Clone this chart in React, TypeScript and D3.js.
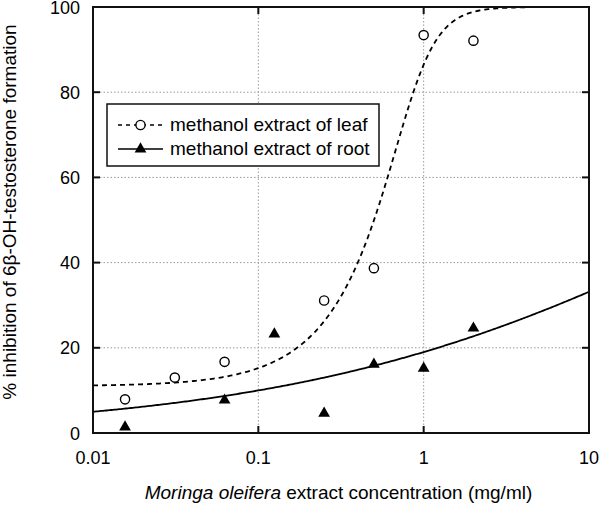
import React from "react";
import * as d3 from "d3";

const W = 600;
const H = 507;
const M = { left: 93, right: 589, top: 7, bottom: 433 };

// Data
const leafConc = [0.015625, 0.03125, 0.0625, 0.25, 0.5, 1, 2];
const leafInhib = [7.9, 13.0, 16.7, 31.1, 38.7, 93.4, 92.1];
const rootConc = [0.015625, 0.0625, 0.125, 0.25, 0.5, 1, 2];
const rootInhib = [1.4, 7.7, 23.2, 4.6, 16.1, 15.2, 24.6];

const xTicks = [0.01, 0.1, 1, 10];
const xTickLabels = ["0.01", "0.1", "1", "10"];
const yTicks = [0, 20, 40, 60, 80, 100];
const yTickLabels = ["0", "20", "40", "60", "80", "100"];

const seriesNames = ["methanol extract of leaf", "methanol extract of root"];

// fitted dose-response curve parameters
const leafFit = { bottom: 11, top: 100, ec50: 0.881, slope: 4, asym: 0.35 };
const rootFit = { bottom: 0, top: 100, ec50: 86.6, slope: 0.325, asym: 1 };

const FONT = "'Liberation Sans', Arial, Helvetica, sans-serif";

function fitValue(p: typeof leafFit, x: number) {
  return p.bottom + (p.top - p.bottom) / Math.pow(1 + Math.pow(p.ec50 / x, p.slope), p.asym);
}

export default function App() {
  const x = d3.scaleLog().domain([0.01, 10]).range([M.left, M.right]);
  const y = d3.scaleLinear().domain([0, 100]).range([M.bottom, M.top]);

  const samples = d3.range(0, 301).map((i) => Math.pow(10, -2 + (3 * i) / 300));
  const line = d3
    .line<number>()
    .x((d) => x(d))
    .curve(d3.curveLinear);
  const leafPath = line.y((d) => y(fitValue(leafFit, d)))(samples) || "";
  const rootPath = line.y((d) => y(fitValue(rootFit, d)))(samples) || "";

  const tri = d3.symbol().type(d3.symbolTriangle).size(60)() || "";

  return (
    <svg
      width={W}
      height={H}
      style={{ position: "absolute", left: 0, top: 0, background: "#fff" }}
      fontFamily={FONT}
    >
      <defs>
        <clipPath id="plotclip">
          <rect x={M.left} y={M.top} width={M.right - M.left} height={M.bottom - M.top} />
        </clipPath>
      </defs>
      <rect width={W} height={H} fill="#fff" />

      {/* grid */}
      {yTicks
        .filter((t) => t > 0 && t < 100)
        .map((t) => (
          <line
            key={"gy" + t}
            x1={M.left}
            x2={M.right}
            y1={y(t)}
            y2={y(t)}
            stroke="#9a9a9a"
            strokeWidth={1}
            strokeDasharray="1.5,2"
          />
        ))}
      {xTicks
        .filter((t) => t > 0.01 && t < 10)
        .map((t) => (
          <line
            key={"gx" + t}
            x1={x(t)}
            x2={x(t)}
            y1={M.top}
            y2={M.bottom}
            stroke="#9a9a9a"
            strokeWidth={1}
            strokeDasharray="1.5,2"
          />
        ))}

      {/* curves */}
      <g clipPath="url(#plotclip)">
        <path d={leafPath} fill="none" stroke="#000" strokeWidth={1.8} strokeDasharray="5,4" />
        <path d={rootPath} fill="none" stroke="#000" strokeWidth={1.8} />
      </g>

      {/* points */}
      {leafConc.map((c, i) => (
        <circle
          key={"l" + i}
          cx={x(c)}
          cy={y(leafInhib[i])}
          r={4.6}
          fill="#fff"
          stroke="#000"
          strokeWidth={1.4}
        />
      ))}
      {rootConc.map((c, i) => (
        <path key={"r" + i} d={tri} transform={`translate(${x(c)},${y(rootInhib[i])})`} fill="#000" />
      ))}

      {/* frame */}
      <rect
        x={M.left}
        y={M.top}
        width={M.right - M.left}
        height={M.bottom - M.top}
        fill="none"
        stroke="#111"
        strokeWidth={2}
      />
      {/* ticks inward */}
      {yTicks.map((t) => (
        <g key={"ty" + t}>
          <line x1={M.left} x2={M.left + 7} y1={y(t)} y2={y(t)} stroke="#111" strokeWidth={2} />
          <line x1={M.right} x2={M.right - 7} y1={y(t)} y2={y(t)} stroke="#111" strokeWidth={2} />
        </g>
      ))}
      {xTicks.map((t) => (
        <g key={"tx" + t}>
          <line x1={x(t)} x2={x(t)} y1={M.bottom} y2={M.bottom - 7} stroke="#111" strokeWidth={2} />
          <line x1={x(t)} x2={x(t)} y1={M.top} y2={M.top + 7} stroke="#111" strokeWidth={2} />
        </g>
      ))}

      {/* tick labels */}
      {yTicks.map((t, i) => (
        <text key={"yl" + t} x={80} y={y(t) + 6.5} fontSize={18} textAnchor="end" fill="#000">
          {yTickLabels[i]}
        </text>
      ))}
      {xTicks.map((t, i) => (
        <text key={"xl" + t} x={x(t)} y={464} fontSize={18} textAnchor="middle" fill="#000">
          {xTickLabels[i]}
        </text>
      ))}

      {/* axis titles */}
      <text x={338.5} y={499} fontSize={19} textAnchor="middle" fill="#000">
        <tspan fontStyle="italic">Moringa oleifera</tspan>
        <tspan> extract concentration (mg/ml)</tspan>
      </text>
      <text
        transform={`translate(16,212) rotate(-90)`}
        fontSize={19}
        textAnchor="middle"
        fill="#000"
      >
        % inhibition of 6β-OH-testosterone formation
      </text>

      {/* legend */}
      <rect x={107} y={104} width={272} height={62} fill="#fff" stroke="#111" strokeWidth={1.5} />
      <line x1={118} x2={163} y1={125} y2={125} stroke="#000" strokeWidth={1.6} strokeDasharray="4,4" />
      <circle cx={140.5} cy={125} r={4.6} fill="#fff" stroke="#000" strokeWidth={1.4} />
      <text x={170} y={131} fontSize={19} fill="#000">
        {seriesNames[0]}
      </text>
      <line x1={118} x2={163} y1={149} y2={149} stroke="#000" strokeWidth={1.6} />
      <path d={tri} transform="translate(140.5,149)" fill="#000" />
      <text x={170} y={155} fontSize={19} fill="#000">
        {seriesNames[1]}
      </text>
    </svg>
  );
}
